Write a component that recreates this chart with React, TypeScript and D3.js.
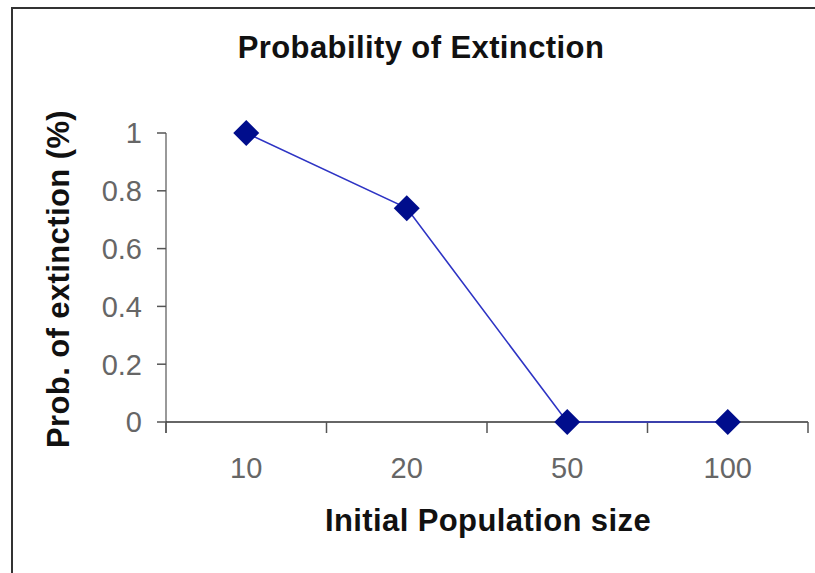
import React from 'react';
import * as d3 from 'd3';

// data
const categories = ['10', '20', '50', '100'];
const probValues = [1, 0.74, 0, 0];
const yTicks = [0, 0.2, 0.4, 0.6, 0.8, 1];

const W = 815;
const H = 573;

const App = () => {
  const x = d3.scaleBand().domain(categories).range([166, 808]).paddingInner(0).paddingOuter(0);
  const y = d3.scaleLinear().domain([0, 1]).range([422, 133]);

  const line = d3
    .line<number>()
    .x((_, i) => (x(categories[i]) as number) + x.bandwidth() / 2)
    .y((d) => y(d));

  const bounds = [...categories.map((c) => x(c) as number), x.range()[1]];
  const font = 'Arial, "Liberation Sans", sans-serif';
  const diamond = d3.symbol().type(d3.symbolDiamond2).size(430);

  return (
    <svg
      width={W}
      height={H}
      style={{ position: 'absolute', left: 0, top: 0, background: '#fff' }}
      fontFamily={font}
    >
      {/* chart area border */}
      <rect x={12} y={8} width={W} height={H - 6} fill="#fff" stroke="#333" strokeWidth={2} />

      <text x={421} y={58} textAnchor="middle" fontSize={31} fontWeight="bold" fill="#111" letterSpacing={0.4}>
        Probability of Extinction
      </text>

      {/* y axis */}
      <line x1={166} x2={166} y1={y(1)} y2={433} stroke="#777" strokeWidth={1.5} />
      {yTicks.map((t) => (
        <g key={t}>
          <line x1={157} x2={166} y1={y(t)} y2={y(t)} stroke="#555" strokeWidth={1.5} />
          <text x={142} y={y(t)} dy="0.36em" textAnchor="end" fontSize={29} fill="#666">
            {d3.format('~g')(t)}
          </text>
        </g>
      ))}

      {/* x axis */}
      <line x1={x.range()[0]} x2={x.range()[1]} y1={y(0)} y2={y(0)} stroke="#333" strokeWidth={1.5} />
      {bounds.map((b, i) => (
        <line key={i} x1={b} x2={b} y1={y(0)} y2={433} stroke="#555" strokeWidth={1.5} />
      ))}
      {categories.map((c) => (
        <text
          key={c}
          x={(x(c) as number) + x.bandwidth() / 2}
          y={478}
          textAnchor="middle"
          fontSize={29}
          fill="#666"
        >
          {c}
        </text>
      ))}

      <text x={488} y={531} textAnchor="middle" fontSize={31} fontWeight="bold" fill="#111" letterSpacing={0.4}>
        Initial Population size
      </text>
      <text
        transform={`translate(69,279) rotate(-90)`}
        textAnchor="middle"
        fontSize={31}
        fontWeight="bold"
        fill="#111"
        letterSpacing={0.4}
      >
        Prob. of extinction (%)
      </text>

      {/* series */}
      <path d={line(probValues) || ''} fill="none" stroke="#2e34c4" strokeWidth={1.6} />
      {probValues.map((v, i) => (
        <path
          key={i}
          d={diamond() || ''}
          transform={`translate(${(x(categories[i]) as number) + x.bandwidth() / 2},${y(v)})`}
          fill="#000d8c"
        />
      ))}
    </svg>
  );
};

export default App;
